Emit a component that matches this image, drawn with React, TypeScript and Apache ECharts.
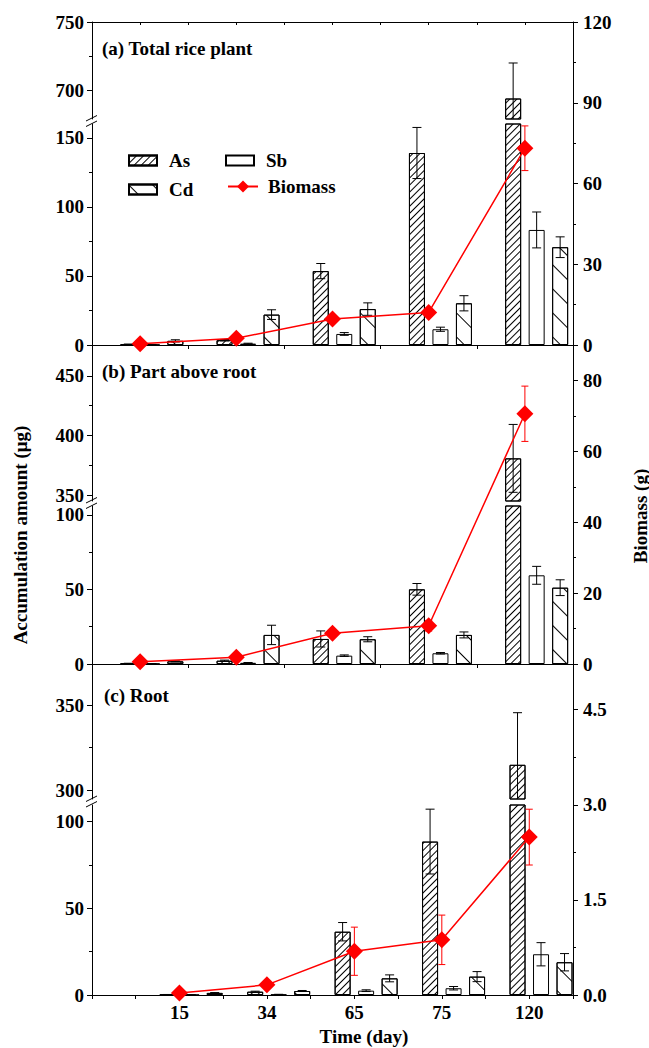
import React, { useEffect, useRef } from 'react';
import * as echarts from 'echarts';

const DAYS = ['15', '34', '65', '75', '120'];

// (a) Total rice plant
const TOTAL_AS = [0.5, 3.5, 53.5, 139, 694];
const TOTAL_AS_ERR = [0.2, 0.5, 5.5, 18.5, 26];
const TOTAL_SB = [0.3, 1, 8, 11.4, 83.3];
const TOTAL_SB_ERR = [0.1, 0.3, 1, 1.5, 13];
const TOTAL_CD = [3, 22, 26, 30.2, 70.8];
const TOTAL_CD_ERR = [0.8, 3.5, 4.5, 5.5, 7.5];
const TOTAL_BIO = [0.5, 2.5, 9.7, 12.1, 73.1];
const TOTAL_BIO_ERR = [0.2, 0.4, 1, 1.5, 8.3];

// (b) Part above root
const SHOOT_AS = [0.4, 2.2, 16.8, 50.1, 380.8];
const SHOOT_AS_ERR = [0.1, 0.4, 5.4, 3.9, 28.5];
const SHOOT_SB = [0.2, 0.8, 5.6, 7.2, 59.5];
const SHOOT_SB_ERR = [0.1, 0.2, 0.5, 0.5, 6];
const SHOOT_CD = [1.8, 19.5, 16.6, 19.5, 51.2];
const SHOOT_CD_ERR = [0.3, 6.5, 1.7, 2, 5.3];
const SHOOT_BIO = [0.6, 1.9, 8.7, 10.8, 70.6];
const SHOOT_BIO_ERR = [0.2, 0.4, 1, 1.5, 7.8];

// (c) Root
const ROOT_AS = [0.2, 1.9, 36.5, 88.5, 315];
const ROOT_AS_ERR = [0.1, 0.3, 5.3, 18.7, 30.5];
const ROOT_SB = [0.1, 0.3, 2.5, 3.9, 23.5];
const ROOT_SB_ERR = [0.05, 0.1, 0.5, 1, 6.7];
const ROOT_CD = [1.2, 2.3, 9.6, 10.6, 18.9];
const ROOT_CD_ERR = [0.2, 0.3, 2, 2.9, 5];
const ROOT_BIO = [0.03, 0.16, 0.69, 0.87, 2.49];
const ROOT_BIO_ERR = [0.01, 0.02, 0.38, 0.39, 0.44];

// Axis ranges and tick values
const TOTAL_UP_RANGE = [679, 750];
const TOTAL_LOW_RANGE = [0, 160];
const TOTAL_BIO_RANGE = [0, 120];
const TOTAL_UP_TICKS = [700, 750];
const TOTAL_UP_MINOR = [725];
const TOTAL_LOW_TICKS = [0, 50, 100, 150];
const TOTAL_LOW_MINOR = [25, 75, 125];
const TOTAL_BIO_TICKS = [0, 30, 60, 90, 120];
const TOTAL_BIO_MINOR = [15, 45, 75, 105];

const SHOOT_UP_RANGE = [345, 476];
const SHOOT_LOW_RANGE = [0, 106];
const SHOOT_BIO_RANGE = [0, 90];
const SHOOT_UP_TICKS = [350, 400, 450];
const SHOOT_UP_MINOR = [375, 425];
const SHOOT_LOW_TICKS = [0, 50, 100];
const SHOOT_LOW_MINOR = [25, 75];
const SHOOT_BIO_TICKS = [0, 20, 40, 60, 80];
const SHOOT_BIO_MINOR = [10, 30, 50, 70];

const ROOT_UP_RANGE = [295, 374];
const ROOT_LOW_RANGE = [0, 109.6];
const ROOT_BIO_RANGE = [0, 5.22];
const ROOT_UP_TICKS = [300, 350];
const ROOT_UP_MINOR = [325];
const ROOT_LOW_TICKS = [0, 50, 100];
const ROOT_LOW_MINOR = [25, 75];
const ROOT_BIO_TICKS = [0, 1.5, 3, 4.5];
const ROOT_BIO_MINOR = [0.75, 2.25, 3.75];

const FONT = 'Liberation Serif';
const BAR_W = 16;
const GAP_PX = 7.5;
const SLOT = BAR_W + GAP_PX;
const GRID_L = 92;
const GRID_R = 76;

const AS_DECAL = {
  symbol: 'rect', symbolSize: 1, dashArrayX: [1, 0], dashArrayY: [1, 3.5],
  rotation: -Math.PI / 4, color: '#000',
};
const CD_DECAL = {
  symbol: 'rect', symbolSize: 1, dashArrayX: [1, 0], dashArrayY: [1, 16],
  rotation: Math.PI / 4, color: '#000',
};

const PANELS = [
  {
    label: '(a) Total rice plant', labelX: 102, labelY: 48,
    top: 22, upBottom: 119, lowTop: 124, bottom: 345,
    xMin: 0.5, xInterval: 1, topTicks: true, showX: false,
    up: TOTAL_UP_RANGE, low: TOTAL_LOW_RANGE, bio: TOTAL_BIO_RANGE,
    upTicks: TOTAL_UP_TICKS, upMinor: TOTAL_UP_MINOR, lowTicks: TOTAL_LOW_TICKS, lowMinor: TOTAL_LOW_MINOR,
    bioTicks: TOTAL_BIO_TICKS, bioMinor: TOTAL_BIO_MINOR, bioFmt: (v: number) => String(v),
    as: TOTAL_AS, asErr: TOTAL_AS_ERR, sb: TOTAL_SB, sbErr: TOTAL_SB_ERR, cd: TOTAL_CD, cdErr: TOTAL_CD_ERR,
    bioV: TOTAL_BIO, bioErr: TOTAL_BIO_ERR,
  },
  {
    label: '(b) Part above root', labelX: 102, labelY: 371,
    top: 345, upBottom: 501, lowTop: 506, bottom: 664,
    xMin: 0.5, xInterval: 1, topTicks: false, showX: false,
    up: SHOOT_UP_RANGE, low: SHOOT_LOW_RANGE, bio: SHOOT_BIO_RANGE,
    upTicks: SHOOT_UP_TICKS, upMinor: SHOOT_UP_MINOR, lowTicks: SHOOT_LOW_TICKS, lowMinor: SHOOT_LOW_MINOR,
    bioTicks: SHOOT_BIO_TICKS, bioMinor: SHOOT_BIO_MINOR, bioFmt: (v: number) => String(v),
    as: SHOOT_AS, asErr: SHOOT_AS_ERR, sb: SHOOT_SB, sbErr: SHOOT_SB_ERR, cd: SHOOT_CD, cdErr: SHOOT_CD_ERR,
    bioV: SHOOT_BIO, bioErr: SHOOT_BIO_ERR,
  },
  {
    label: '(c) Root', labelX: 104, labelY: 695,
    top: 664, upBottom: 799, lowTop: 805, bottom: 995,
    xMin: 0, xInterval: 0.5, topTicks: false, showX: true,
    up: ROOT_UP_RANGE, low: ROOT_LOW_RANGE, bio: ROOT_BIO_RANGE,
    upTicks: ROOT_UP_TICKS, upMinor: ROOT_UP_MINOR, lowTicks: ROOT_LOW_TICKS, lowMinor: ROOT_LOW_MINOR,
    bioTicks: ROOT_BIO_TICKS, bioMinor: ROOT_BIO_MINOR, bioFmt: (v: number) => v.toFixed(1),
    as: ROOT_AS, asErr: ROOT_AS_ERR, sb: ROOT_SB, sbErr: ROOT_SB_ERR, cd: ROOT_CD, cdErr: ROOT_CD_ERR,
    bioV: ROOT_BIO, bioErr: ROOT_BIO_ERR,
  },
];

const labelStyle = { fontFamily: FONT, fontWeight: 'bold' as const, fontSize: 19, color: '#000' };
const black = { color: '#000', width: 1 };

function errRender(color: string, capHalf: number) {
  return (params: any, api: any) => {
    const x = api.value(0);
    const v = api.value(1);
    const e = api.value(2);
    const slot = api.value(3);
    const off = slot < 0 ? 0 : (slot - 1.5) * SLOT;
    const t = api.coord([x, v + e]);
    const b = api.coord([x, v - e]);
    const cx = t[0] + off;
    const st = { stroke: color, lineWidth: 1 };
    return {
      type: 'group',
      children: [
        { type: 'line', shape: { x1: cx, y1: t[1], x2: cx, y2: b[1] }, style: st },
        { type: 'line', shape: { x1: cx - capHalf, y1: t[1], x2: cx + capHalf, y2: t[1] }, style: st },
        { type: 'line', shape: { x1: cx - capHalf, y1: b[1], x2: cx + capHalf, y2: b[1] }, style: st },
      ],
    };
  };
}

function buildOption() {
  const grid: any[] = [];
  const xAxis: any[] = [];
  const yAxis: any[] = [];
  const series: any[] = [];
  const graphic: any[] = [];

  PANELS.forEach((p) => {
    const gFull = grid.length;
    grid.push({ left: GRID_L, right: GRID_R, top: p.top, height: p.bottom - p.top });
    const gUp = grid.length;
    grid.push({ left: GRID_L, right: GRID_R, top: p.top, height: p.upBottom - p.top });
    const gLow = grid.length;
    grid.push({ left: GRID_L, right: GRID_R, top: p.lowTop, height: p.bottom - p.lowTop });

    const xFull = xAxis.length;
    xAxis.push({
      type: 'value', gridIndex: gFull, position: 'bottom', min: p.xMin, max: 5.5, interval: p.xInterval,
      axisLine: { show: true, onZero: false, lineStyle: black },
      axisTick: { show: true, inside: false, length: 4, lineStyle: black },
      axisLabel: p.showX
        ? { ...labelStyle, margin: 8, customValues: DAYS.map((_, i) => i + 1), formatter: (v: number) => DAYS[Math.round(v) - 1] ?? '' }
        : { show: false },
      splitLine: { show: false },
    });
    if (p.topTicks) {
      xAxis.push({
        type: 'value', gridIndex: gFull, position: 'top', min: p.xMin, max: 5.5, interval: 0.5,
        axisLine: { show: true, onZero: false, lineStyle: black },
        axisTick: { show: true, inside: true, length: 3, lineStyle: black },
        axisLabel: { show: false }, splitLine: { show: false },
      });
    }
    const xUp = xAxis.length;
    xAxis.push({ type: 'value', gridIndex: gUp, min: p.xMin, max: 5.5, show: false, axisLine: { onZero: false } });
    const xLow = xAxis.length;
    xAxis.push({ type: 'value', gridIndex: gLow, min: p.xMin, max: 5.5, show: false, axisLine: { onZero: false } });

    const yBio = yAxis.length;
    yAxis.push({
      type: 'value', gridIndex: gFull, position: 'right', min: p.bio[0], max: p.bio[1],
      axisLine: { show: true, onZero: false, lineStyle: black },
      axisTick: { show: true, inside: false, length: 5, lineStyle: black, customValues: p.bioTicks },
      axisLabel: { ...labelStyle, margin: 10, customValues: p.bioTicks, formatter: p.bioFmt },
      splitLine: { show: false },
    });
    yAxis.push({
      type: 'value', gridIndex: gFull, position: 'right', min: p.bio[0], max: p.bio[1],
      axisLine: { show: false, onZero: false },
      axisTick: { show: true, inside: false, length: 3, lineStyle: black, customValues: p.bioMinor },
      axisLabel: { show: false }, splitLine: { show: false },
    });

    const mkLeft = (gi: number, range: number[], ticks: number[], minor: number[]) => {
      const idx = yAxis.length;
      yAxis.push({
        type: 'value', gridIndex: gi, position: 'left', min: range[0], max: range[1],
        axisLine: { show: true, onZero: false, lineStyle: black },
        axisTick: { show: true, inside: false, length: 5, lineStyle: black, customValues: ticks },
        axisLabel: { ...labelStyle, margin: 8, customValues: ticks },
        splitLine: { show: false },
      });
      yAxis.push({
        type: 'value', gridIndex: gi, position: 'left', min: range[0], max: range[1],
        axisLine: { show: false, onZero: false },
        axisTick: { show: true, inside: false, length: 3, lineStyle: black, customValues: minor },
        axisLabel: { show: false }, splitLine: { show: false },
      });
      return idx;
    };
    const yUp = mkLeft(gUp, p.up, p.upTicks, p.upMinor);
    const yLow = mkLeft(gLow, p.low, p.lowTicks, p.lowMinor);

    const pts = (arr: number[]) => arr.map((v, i) => [i + 1, v]);
    const errRows: number[][] = [];
    [p.asErr, p.sbErr, p.cdErr].forEach((errs, k) => {
      const vals = [p.as, p.sb, p.cd][k];
      errs.forEach((e, i) => errRows.push([i + 1, vals[i], e, k + 1]));
    });

    [[xUp, yUp], [xLow, yLow]].forEach(([xi, yi]) => {
      const base = { type: 'bar', xAxisIndex: xi, yAxisIndex: yi, barWidth: BAR_W, barGap: (GAP_PX / BAR_W * 100) + '%', z: 2, silent: true };
      series.push({ ...base, name: '_slot', data: [] });
      series.push({ ...base, name: 'As', data: pts(p.as), itemStyle: { color: '#fff', borderColor: '#000', borderWidth: 1, decal: AS_DECAL } });
      series.push({ ...base, name: 'Sb', data: pts(p.sb), itemStyle: { color: '#fff', borderColor: '#000', borderWidth: 1 } });
      series.push({ ...base, name: 'Cd', data: pts(p.cd), itemStyle: { color: '#fff', borderColor: '#000', borderWidth: 1, decal: CD_DECAL } });
      series.push({
        type: 'custom', xAxisIndex: xi, yAxisIndex: yi, clip: true, z: 3, silent: true,
        encode: { x: 0, y: 1 }, renderItem: errRender('#000', 4.5), data: errRows,
      });
    });

    series.push({
      type: 'custom', xAxisIndex: xFull, yAxisIndex: yBio, clip: true, z: 4, silent: true,
      encode: { x: 0, y: 1 }, renderItem: errRender('#ff0000', 3.5),
      data: p.bioErr.map((e, i) => [i + 1, p.bioV[i], e, -1]),
    });
    series.push({
      type: 'line', name: 'Biomass', xAxisIndex: xFull, yAxisIndex: yBio, z: 5,
      data: pts(p.bioV), symbol: 'diamond', symbolSize: 17, showSymbol: true,
      itemStyle: { color: '#ff0000' }, lineStyle: { color: '#ff0000', width: 1.5 },
    });

    graphic.push({
      type: 'text', x: p.labelX, y: p.labelY, z: 10,
      style: { text: p.label, fontFamily: FONT, fontWeight: 'bold', fontSize: 19, fill: '#000', align: 'left', verticalAlign: 'middle' },
    });
    const ym = (p.upBottom + p.lowTop) / 2;
    graphic.push({ type: 'line', z: 10, shape: { x1: GRID_L - 6, y1: ym - 0.5, x2: GRID_L + 5, y2: ym - 6 }, style: { stroke: '#000', lineWidth: 1 } });
    graphic.push({ type: 'line', z: 10, shape: { x1: GRID_L - 6, y1: ym + 5, x2: GRID_L + 5, y2: ym - 0.5 }, style: { stroke: '#000', lineWidth: 1 } });
  });

  graphic.push({
    type: 'text', x: 20, y: 535, rotation: Math.PI / 2, z: 10,
    style: { text: 'Accumulation amount (μg)', fontFamily: FONT, fontWeight: 'bold', fontSize: 19, fill: '#000', align: 'center', verticalAlign: 'middle' },
  });
  graphic.push({
    type: 'text', x: 640, y: 516, rotation: Math.PI / 2, z: 10,
    style: { text: 'Biomass (g)', fontFamily: FONT, fontWeight: 'bold', fontSize: 19, fill: '#000', align: 'center', verticalAlign: 'middle' },
  });
  graphic.push({
    type: 'text', x: 364, y: 1036, z: 10,
    style: { text: 'Time (day)', fontFamily: FONT, fontWeight: 'bold', fontSize: 19, fill: '#000', align: 'center', verticalAlign: 'middle' },
  });

  const legText = { fontFamily: FONT, fontWeight: 'bold' as const, fontSize: 19, color: '#000', padding: [0, 0, 0, 7] };
  const legBase = { orient: 'horizontal', padding: 0, itemWidth: 28, itemHeight: 10, textStyle: legText, selectedMode: false };
  const legend = [
    { ...legBase, data: [{ name: 'As', icon: 'rect' }], left: 128, top: 151 },
    { ...legBase, data: [{ name: 'Sb', icon: 'rect' }], left: 225, top: 151 },
    { ...legBase, data: [{ name: 'Cd', icon: 'rect' }], left: 128, top: 180 },
    { ...legBase, data: ['Biomass'], left: 227, top: 177, itemWidth: 30, itemHeight: 15, textStyle: { ...legText, padding: [0, 0, 0, 5] } },
  ];

  return { animation: false, grid, xAxis, yAxis, series, graphic, legend };
}

export default function App() {
  const ref = useRef<HTMLDivElement>(null);
  useEffect(() => {
    if (!ref.current) return;
    const chart = echarts.init(ref.current, undefined, { renderer: 'svg' });
    chart.setOption(buildOption() as any);
    return () => chart.dispose();
  }, []);
  return <div ref={ref} style={{ position: 'fixed', left: 0, top: 0, width: 649, height: 1048, background: '#fff' }} />;
}
